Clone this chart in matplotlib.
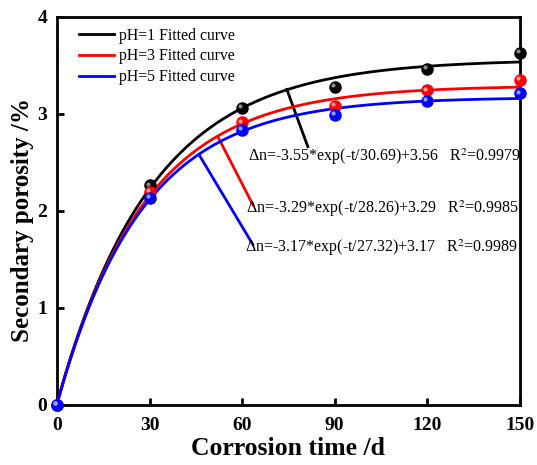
import numpy as np
import matplotlib
matplotlib.use("Agg")
from matplotlib import pyplot as plt

# measured data
days = [0, 30, 60, 90, 120, 150]
ph1 = [0.0, 2.26, 3.06, 3.28, 3.46, 3.63]
ph3 = [0.0, 2.19, 2.91, 3.08, 3.24, 3.35]
ph5 = [0.0, 2.13, 2.83, 2.99, 3.13, 3.21]

# fit parameters: dn = -a*exp(-t/tau)+b
fit_a = [3.55, 3.29, 3.17]
fit_tau = [30.69, 28.26, 27.32]
fit_b = [3.56, 3.29, 3.17]
r2 = ["0.9979", "0.9985", "0.9989"]
labels = ["pH=1 Fitted curve", "pH=3 Fitted curve", "pH=5 Fitted curve"]
colors = ["black", "#ff0000", "#0000ff"]
light = ["#8a8a8a", "#ff9a9a", "#9a9aff"]

plt.rcParams['font.family'] = ['Liberation Serif', 'DejaVu Serif']
plt.rcParams['mathtext.fontset'] = 'stix'

fig = plt.figure(figsize=(5.37, 4.65), dpi=100)
ax = fig.add_axes([0.106, 0.13, 0.862, 0.834])

t = np.linspace(0, 150, 300)
for series, a, tau, b, lab, c, lc in zip([ph1, ph3, ph5], fit_a, fit_tau, fit_b,
                                         labels, colors, light):
    ax.plot(t, -a * np.exp(-t / tau) + b, color=c, lw=2, label=lab, zorder=3)
    ax.plot(days, series, 'o', ms=8, color=c, mec=c, zorder=4, clip_on=False)
    ax.plot(days, series, 'o', ms=3, color=lc, mec='none', zorder=5, clip_on=False,
            transform=ax.transData + matplotlib.transforms.ScaledTranslation(
                -1.3 / 72, 1.3 / 72, fig.dpi_scale_trans))

# equation annotations with leader lines
eq_pos = [(62.0, 2.56), (61.2, 2.02), (60.9, 1.62)]
leader = [((74.5, 3.25), (81.3, 2.66)), ((52.2, 2.76), (63.5, 2.06)),
          ((46.0, 2.58), (63.5, 1.65))]
for a, tau, b, r, c, (x, y), (p1, p2) in zip(fit_a, fit_tau, fit_b, r2, colors, eq_pos, leader):
    ax.plot([p1[0], p2[0]], [p1[1], p2[1]], color=c, lw=2, zorder=2)
    ax.text(x, y, "\u0394n=-%.2f*exp(-t/%.2f)+%.2f   R$^2$=%s" % (a, tau, b, r),
            fontsize=11.5, va='center', ha='left')

ax.set_xlim(0, 150)
ax.set_ylim(0, 4)
ax.set_xticks([0, 30, 60, 90, 120, 150])
ax.set_yticks([0, 1, 2, 3, 4])
ax.tick_params(direction='in', length=5, width=2, labelsize=14, top=False, right=False)
ax.tick_params(axis='x', pad=9)
ax.tick_params(axis='y', pad=7)
for lab in ax.get_xticklabels() + ax.get_yticklabels():
    lab.set_fontweight('bold')
for sp in ax.spines.values():
    sp.set_linewidth(2)
ax.set_xlabel("Corrosion time /d", fontsize=18.5, fontweight='bold', labelpad=2)
ax.set_ylabel("Secondary porosity /%", fontsize=18, fontweight='bold')
ax.yaxis.set_label_coords(-0.05, 0.475)

ax.legend(loc='upper left', frameon=False, fontsize=11.3, handlelength=2.2,
          handletextpad=0.35, labelspacing=0.3, borderaxespad=0.3,
          bbox_to_anchor=(0.024, 1.0))

plt.savefig('out.png', dpi=100)
